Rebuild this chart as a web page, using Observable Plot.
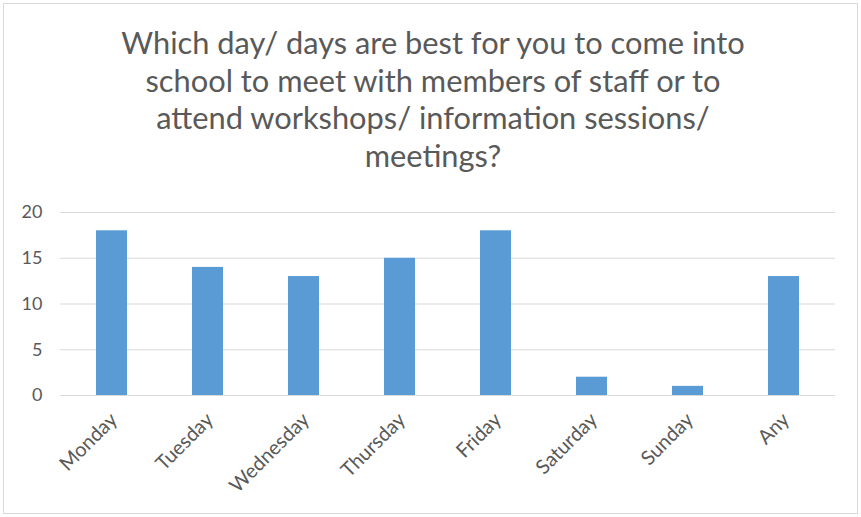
<!DOCTYPE html>
<html>
<head>
<meta charset="utf-8">
<script src="https://cdn.jsdelivr.net/npm/d3@7"></script>
<script src="https://cdn.jsdelivr.net/npm/@observablehq/plot@0.6"></script>
<style>
  html, body { margin: 0; padding: 0; background: #fff; }
  #wrap { position: relative; width: 861px; height: 517px; overflow: hidden; }
  #frame { position: absolute; left: 3px; top: 3px; width: 853px; height: 509px; border: 1.5px solid #d9d9d9; }
  #title { position: absolute; left: 0; top: 24px; width: 866px; text-align: center;
           font-family: Lato, sans-serif; font-size: 30.8px; line-height: 37.5px; color: #595959; }
  #chart { position: absolute; left: 0; top: 0; }
  #chart svg g[aria-label="x-axis tick label"] text { font-size: 20px; }
</style>
</head>
<body>
<div id="wrap">
  <div id="frame"></div>
  <div id="chart"></div>
  <div id="title"></div>
</div>
<script>
const titleLines = [
  "Which day/ days are best for you to come into",
  "school to meet with members of staff or to",
  "attend workshops/ information sessions/",
  "meetings?"
];
const days = ["Monday", "Tuesday", "Wednesday", "Thursday", "Friday", "Saturday", "Sunday", "Any"];
const counts = [18, 14, 13, 15, 18, 2, 1, 13];
const yTicks = [0, 5, 10, 15, 20];

const data = days.map((d, i) => ({day: d, count: counts[i]}));

document.getElementById("title").innerHTML = titleLines.join("<br>");

const chart = Plot.plot({
  width: 861,
  height: 517,
  marginTop: 212,
  marginBottom: 122,
  marginLeft: 60,
  marginRight: 26,
  style: {fontFamily: "Lato, sans-serif", fontSize: "18px", color: "#595959", background: "transparent"},
  x: {domain: days, paddingInner: 0.68, paddingOuter: 0.34, label: null},
  y: {domain: [0, 20], ticks: yTicks, label: null},
  marks: [
    Plot.gridY(yTicks, {stroke: "#d9d9d9", strokeOpacity: 1, strokeWidth: 1}),
    Plot.barY(data, {x: "day", y: "count", fill: "#5b9bd5"}),
    Plot.axisY(yTicks, {tickSize: 0, tickPadding: 18, fill: "#595959", fontSize: 18}),
    Plot.axisX({tickSize: 0, tickRotate: -45, tickPadding: 8, fill: "#595959", fontSize: 20, dx: 2, dy: 13})
  ]
});
document.getElementById("chart").appendChild(chart);
</script>
</body>
</html>
